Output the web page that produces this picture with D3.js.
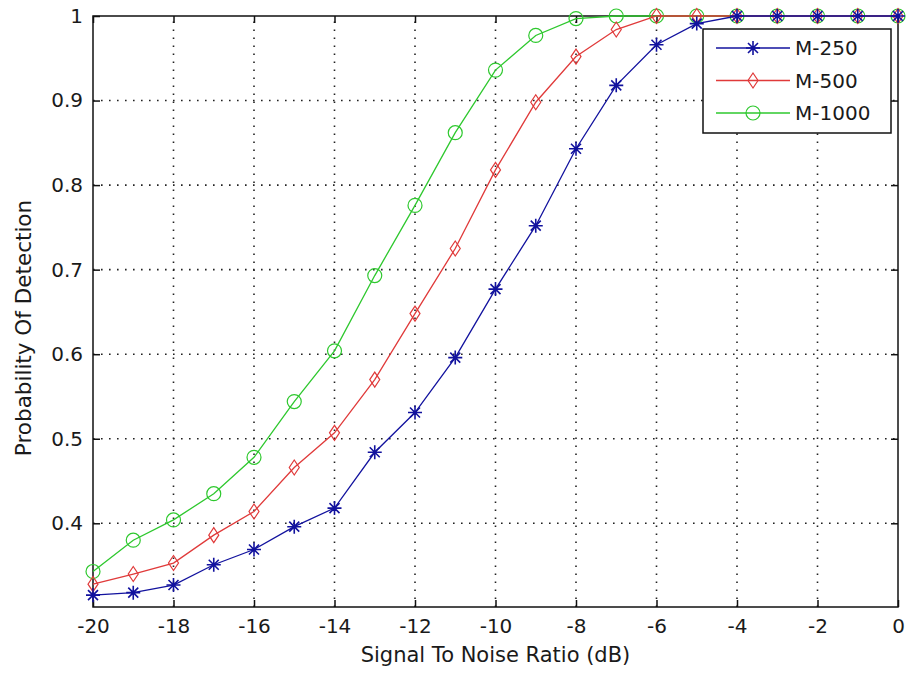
<!DOCTYPE html>
<html>
<head>
<meta charset="utf-8">
<script src="https://cdn.jsdelivr.net/npm/d3@7"></script>
<style>
  body { margin: 0; background: #fff; }
  svg text { font-family: "DejaVu Sans", sans-serif; fill: #1a1a1a; }
</style>
</head>
<body>
<div class="viz"></div>
<script>
// SNR values (dB) on the x axis
const snr = [-20, -19, -18, -17, -16, -15, -14, -13, -12, -11, -10, -9, -8, -7, -6, -5, -4, -3, -2, -1, 0];

// probability of detection for each sample size
const m250 = [0.315, 0.318, 0.327, 0.351, 0.369, 0.396, 0.418, 0.484, 0.531, 0.596, 0.677, 0.752, 0.843, 0.918, 0.966, 0.991, 1, 1, 1, 1, 1];
const m500 = [0.328, 0.340, 0.353, 0.386, 0.414, 0.466, 0.507, 0.570, 0.648, 0.725, 0.818, 0.898, 0.952, 0.984, 1, 1, 1, 1, 1, 1, 1];
const m1000 = [0.343, 0.380, 0.404, 0.435, 0.478, 0.544, 0.604, 0.693, 0.776, 0.862, 0.936, 0.977, 0.997, 1, 1, 1, 1, 1, 1, 1, 1];

const seriesNames = ["M-250", "M-500", "M-1000"];
const xTicks = [-20, -18, -16, -14, -12, -10, -8, -6, -4, -2, 0];
const yTicks = [0.4, 0.5, 0.6, 0.7, 0.8, 0.9, 1];

const width = 906, height = 673;
const margin = ({top: 16, right: 8, bottom: 66, left: 93});

const series = [
  {name: seriesNames[0], values: m250, color: "#12129e", marker: "star"},
  {name: seriesNames[1], values: m500, color: "#e03a3a", marker: "diamond"},
  {name: seriesNames[2], values: m1000, color: "#2ec82e", marker: "circle"}
];

const svg = d3.select('.viz').append('svg')
  .attr('width', width)
  .attr('height', height);

const x = d3.scaleLinear()
  .domain([-20, 0])
  .range([margin.left, width - margin.right]);

const y = d3.scaleLinear()
  .domain([0.301, 1])
  .range([height - margin.bottom, margin.top]);

// dotted grid
const grid = svg.append("g")
  .attr("stroke", "#222")
  .attr("stroke-width", 1.6)
  .attr("stroke-dasharray", "1.6,6.4");

grid.selectAll(".vg").data(xTicks.slice(1, -1)).enter().append("line")
  .attr("x1", d => x(d)).attr("x2", d => x(d))
  .attr("y1", y.range()[0]).attr("y2", y.range()[1]);

grid.selectAll(".hg").data(yTicks.slice(0, -1)).enter().append("line")
  .attr("y1", d => y(d)).attr("y2", d => y(d))
  .attr("x1", x.range()[0]).attr("x2", x.range()[1]);

// axes with inward ticks, MATLAB style (plain hyphen for negatives)
const xAxis = g => g
  .attr("transform", `translate(0,${y.range()[0]})`)
  .call(d3.axisBottom(x).tickValues(xTicks).tickFormat(d => String(d))
    .tickSizeInner(-7).tickSizeOuter(0).tickPadding(12))
  .call(g => g.select(".domain").remove());

const yAxis = g => g
  .attr("transform", `translate(${x.range()[0]},0)`)
  .call(d3.axisLeft(y).tickValues(yTicks).tickFormat(d => d === 1 ? "1" : d.toFixed(1))
    .tickSizeInner(-7).tickSizeOuter(0).tickPadding(10))
  .call(g => g.select(".domain").remove());

const xTop = g => g
  .attr("transform", `translate(0,${y.range()[1]})`)
  .call(d3.axisTop(x).tickValues(xTicks).tickFormat("").tickSizeInner(-7).tickSizeOuter(0))
  .call(g => g.select(".domain").remove());

const yRight = g => g
  .attr("transform", `translate(${x.range()[1]},0)`)
  .call(d3.axisRight(y).tickValues(yTicks).tickFormat("").tickSizeInner(-7).tickSizeOuter(0))
  .call(g => g.select(".domain").remove());

[xAxis, yAxis, xTop, yRight].forEach(a => {
  svg.append("g").call(a)
    .call(g => g.selectAll(".tick line").attr("stroke", "#111").attr("stroke-width", 1.5))
    .call(g => g.selectAll(".tick text").attr("font-size", 20).attr("fill", "#1a1a1a"));
});

// box
svg.append("rect")
  .attr("x", x.range()[0]).attr("y", y.range()[1])
  .attr("width", x.range()[1] - x.range()[0])
  .attr("height", y.range()[0] - y.range()[1])
  .attr("fill", "none").attr("stroke", "#111").attr("stroke-width", 1.5);

// markers
function drawMarker(sel, type, color) {
  if (type === "star") {
    sel.append("path")
      .attr("d", "M-7,0H7M0,-7V7M-5,-5L5,5M-5,5L5,-5")
      .attr("stroke", color).attr("stroke-width", 1.6).attr("fill", "none");
  } else if (type === "diamond") {
    sel.append("path")
      .attr("d", "M0,-7.5L5,0L0,7.5L-5,0Z")
      .attr("stroke", color).attr("stroke-width", 1.2).attr("fill", "none");
  } else {
    sel.append("circle")
      .attr("r", 7)
      .attr("stroke", color).attr("stroke-width", 1.2).attr("fill", "none");
  }
}

const line = d3.line()
  .x((d, i) => x(snr[i]))
  .y(d => y(d));

// green first so blue ends up on top, as in the figure
series.slice().reverse().forEach(s => {
  const g = svg.append("g");
  g.append("path")
    .attr("d", line(s.values))
    .attr("fill", "none")
    .attr("stroke", s.color)
    .attr("stroke-width", 1.3);
  g.selectAll(".pt").data(s.values).enter().append("g")
    .attr("transform", (d, i) => `translate(${x(snr[i])},${y(d)})`)
    .each(function() { drawMarker(d3.select(this), s.marker, s.color); });
});

// legend
const legend = svg.append("g").attr("transform", "translate(703,29)");
legend.append("rect")
  .attr("width", 188).attr("height", 104)
  .attr("fill", "#fff").attr("stroke", "#111").attr("stroke-width", 1.5);

series.forEach((s, i) => {
  const row = legend.append("g").attr("transform", `translate(0,${19 + i * 32.5})`);
  row.append("line")
    .attr("x1", 13).attr("x2", 87)
    .attr("stroke", s.color).attr("stroke-width", 1.3);
  drawMarker(row.append("g").attr("transform", "translate(50,0)"), s.marker, s.color);
  row.append("text")
    .attr("x", 92).attr("dy", "0.36em")
    .attr("font-size", 20)
    .text(s.name);
});

// axis titles
svg.append("text")
  .attr("x", (x.range()[0] + x.range()[1]) / 2)
  .attr("y", 662)
  .attr("text-anchor", "middle")
  .attr("font-size", 21)
  .text("Signal To Noise Ratio (dB)");

svg.append("text")
  .attr("transform", "translate(31,328) rotate(-90)")
  .attr("text-anchor", "middle")
  .attr("font-size", 21.5)
  .text("Probability Of Detection");
</script>
</body>
</html>
